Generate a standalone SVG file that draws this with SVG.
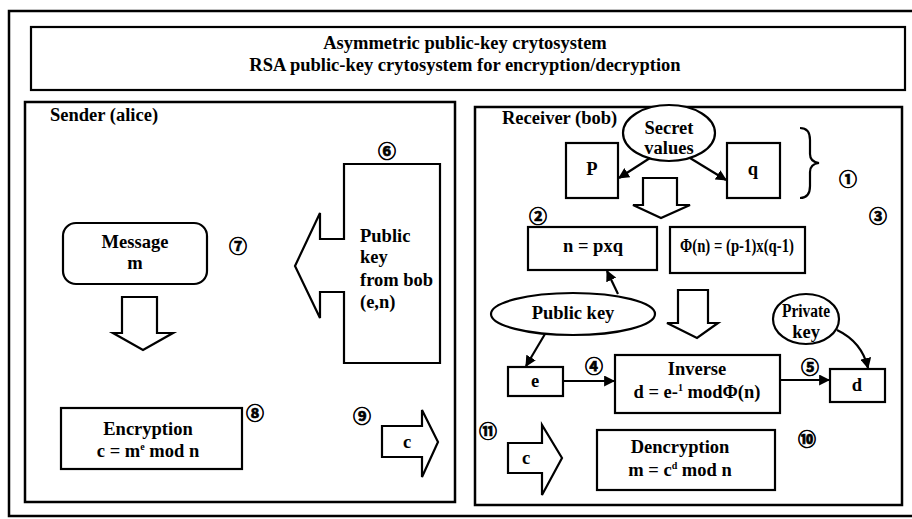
<svg xmlns="http://www.w3.org/2000/svg" width="912" height="519" viewBox="0 0 912 519">
<defs>
<style>
.frame{fill:none;stroke:#000;stroke-width:2.5}
.box{fill:#fff;stroke:#000;stroke-width:2.2}
.t{font-family:"Liberation Serif","Times New Roman","DejaVu Serif",serif;font-weight:bold;font-size:18.5px;fill:#000}
.c{text-anchor:middle}
.num{font-family:"Noto Sans CJK JP","DejaVu Sans",sans-serif;font-weight:bold;font-size:18px;text-anchor:middle;dominant-baseline:central;fill:#000;stroke:#000;stroke-width:0.7}
.ln{fill:none;stroke:#000;stroke-width:2.2}
.blk{fill:#fff;stroke:#000;stroke-width:2.2;stroke-linejoin:miter}
</style>
<marker id="ah" viewBox="0 0 10 10" refX="9" refY="5" markerWidth="5" markerHeight="5" orient="auto" markerUnits="strokeWidth">
<path d="M0,0 L10,5 L0,10 z" fill="#000"/>
</marker>
</defs>
<rect x="0" y="0" width="912" height="519" fill="#fff"/>

<g id="outer-frame">
<rect class="frame" x="9" y="11" width="910" height="505"/>
</g>

<g id="title">
<rect class="box" x="31" y="27" width="874" height="63"/>
<text class="t c" x="465" y="49">Asymmetric public-key crytosystem</text>
<text class="t c" x="465" y="71">RSA public-key crytosystem for encryption/decryption</text>
</g>

<g id="sender-panel">
<rect class="frame" x="25" y="102" width="430" height="400"/>
<text class="t" x="50" y="121">Sender (alice)</text>
</g>

<g id="receiver-panel">
<rect class="frame" x="475" y="107" width="427" height="398"/>
<text class="t" x="502" y="124">Receiver (bob)</text>
</g>

<g id="public-key-from-bob">
<path class="blk" d="M344,164 L440,164 L440,363 L344,363 L344,292 L320,292 L320,318 L295,266 L320,213 L320,239 L344,239 Z"/>
<text class="t" x="360" y="242">Public</text>
<text class="t" x="360" y="263">key</text>
<text class="t" x="360" y="286">from bob</text>
<text class="t" x="360" y="308">(e,n)</text>
</g>

<g id="message">
<rect class="box" x="63" y="223" width="144" height="61" rx="13"/>
<text class="t c" x="135" y="248">Message</text>
<text class="t c" x="135" y="269">m</text>
</g>

<g id="sender-down-arrow">
<path class="blk" d="M122,297 L157,297 L157,333 L173,333 L143,350 L113,333 L122,333 Z"/>
</g>

<g id="encryption">
<rect class="box" x="61" y="408" width="181" height="61"/>
<text class="t c" x="148" y="435">Encryption</text>
<text class="t c" x="148" y="457">c = m<tspan font-size="10" dy="-7">e</tspan><tspan dy="7"> mod n</tspan></text>
</g>

<g id="send-c">
<path class="blk" d="M382,426 L422,426 L422,410 L438,442 L422,477 L422,457 L382,457 Z"/>
<text class="t c" x="407" y="448">c</text>
</g>

<g id="secret-values">
<ellipse class="box" cx="669" cy="133" rx="46" ry="28"/>
<text class="t c" x="669" y="134">Secret</text>
<text class="t c" x="669" y="154">values</text>
</g>

<g id="p-box">
<rect class="box" x="566" y="143" width="52" height="55"/>
<text class="t c" x="592" y="175">P</text>
</g>

<g id="q-box">
<rect class="box" x="727" y="143" width="53" height="55"/>
<text class="t c" x="753" y="175">q</text>
</g>

<g id="brace">
<path class="ln" d="M800,128 Q810,128 810,140 L810,154 Q810,162 819,163 Q810,164 810,172 L810,186 Q810,198 800,198"/>
</g>

<g id="receiver-down-arrow-1">
<path class="blk" d="M643,178 L677,178 L677,205 L690,205 L661,218 L633,205 L643,205 Z"/>
</g>

<g id="n-box">
<rect class="box" x="528" y="227" width="129" height="43"/>
<text class="t c" x="593" y="252">n = pxq</text>
</g>

<g id="phi-box">
<rect class="box" x="670" y="227" width="135" height="46"/>
<text class="t c" x="737" y="252" textLength="114" lengthAdjust="spacingAndGlyphs">Φ(n) = (p-1)x(q-1)</text>
</g>

<g id="public-key">
<ellipse class="box" cx="573" cy="314" rx="82" ry="21"/>
<text class="t c" x="573" y="319">Public key</text>
</g>

<g id="receiver-down-arrow-2">
<path class="blk" d="M678,290 L708,290 L708,323 L718,323 L697,338 L667,323 L678,323 Z"/>
</g>

<g id="private-key">
<ellipse class="box" cx="806" cy="319" rx="33" ry="25"/>
<text class="t c" x="806" y="317" textLength="48" lengthAdjust="spacingAndGlyphs">Private</text>
<text class="t c" x="806" y="338">key</text>
</g>

<g id="e-box">
<rect class="box" x="508" y="367" width="55" height="29"/>
<text class="t c" x="535" y="387">e</text>
</g>

<g id="inverse">
<rect class="box" x="615" y="355" width="165" height="58"/>
<text class="t c" x="697" y="375">Inverse</text>
<text class="t c" x="697" y="398">d = e-<tspan font-size="10" dy="-7">1</tspan><tspan dy="7"> modΦ(n)</tspan></text>
</g>

<g id="d-box">
<rect class="box" x="830" y="369" width="55" height="33"/>
<text class="t c" x="857" y="391">d</text>
</g>

<g id="receive-c">
<path class="blk" d="M508,443 L542,443 L542,425 L562,458 L542,495 L542,473 L508,473 Z"/>
<text class="t c" x="526" y="464">c</text>
</g>

<g id="decryption">
<rect class="box" x="597" y="430" width="178" height="60"/>
<text class="t c" x="680" y="453">Dencryption</text>
<text class="t c" x="680" y="476">m = c<tspan font-size="10" dy="-7">d</tspan><tspan dy="7"> mod n</tspan></text>
</g>

<g id="connectors">
<path class="ln" d="M650,158 L619,178" marker-end="url(#ah)"/>
<path class="ln" d="M690,158 L726,180" marker-end="url(#ah)"/>
<path class="ln" d="M618,294 L607,271" marker-end="url(#ah)"/>
<path class="ln" d="M545,334 L526,366" marker-end="url(#ah)"/>
<path class="ln" d="M563,381 L614,381" marker-end="url(#ah)"/>
<path class="ln" d="M780,380 L829,380" marker-end="url(#ah)"/>
<path class="ln" d="M837,330 Q862,342 868,368" marker-end="url(#ah)"/>
</g>

<g id="step-numbers">
<text class="num" x="387" y="150">⑥</text>
<text class="num" x="238" y="245">⑦</text>
<text class="num" x="255" y="412">⑧</text>
<text class="num" x="362" y="415">⑨</text>
<text class="num" x="848" y="178">①</text>
<text class="num" x="538" y="215">②</text>
<text class="num" x="878" y="215">③</text>
<text class="num" x="594" y="365">④</text>
<text class="num" x="810" y="366">⑤</text>
<text class="num" x="488" y="430">⑪</text>
<text class="num" x="807" y="438">⑩</text>
</g>
</svg>
